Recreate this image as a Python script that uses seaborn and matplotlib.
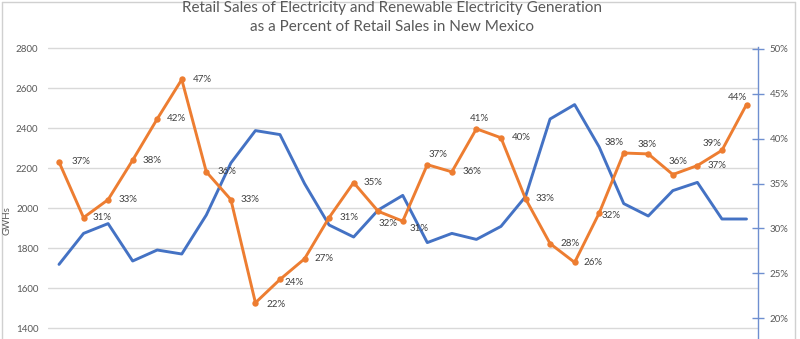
import matplotlib
matplotlib.use("Agg")
import matplotlib.pyplot as plt
from matplotlib.lines import Line2D
from matplotlib.ticker import PercentFormatter
import pandas as pd
import seaborn as sns

# Monthly periods, retail sales (GWh) and renewable share of retail sales
periods = list(range(29))
retail_sales_gwh = [1718, 1873, 1922, 1735, 1790, 1770, 1965, 2225, 2387, 2367,
                    2122, 1915, 1855, 1990, 2063, 1827, 1873, 1843, 1908, 2057,
                    2445, 2517, 2305, 2022, 1960, 2087, 2128, 1945, 1945]
renewable_share = [0.374, 0.312, 0.332, 0.376, 0.422, 0.466, 0.363, 0.332, 0.217, 0.243,
                   0.266, 0.312, 0.351, 0.319, 0.308, 0.371, 0.363, 0.411, 0.401, 0.333,
                   0.283, 0.262, 0.317, 0.384, 0.383, 0.360, 0.370, 0.387, 0.438]
gwh_ticks = [1400, 1600, 1800, 2000, 2200, 2400, 2600, 2800]
share_ticks = [0.20, 0.25, 0.30, 0.35, 0.40, 0.45, 0.50]
title_lines = ["Retail Sales of Electricity and Renewable Electricity Generation",
               "as a Percent of Retail Sales in New Mexico"]
y_label = "GWHs"

# Data-label placement (pixel offsets: right, down) for each percentage label
label_offsets = [(13, 0), (9, 0), (10, 0), (10, 0), (10, 0), (11, 0), (11, 0), (10, 0),
                 (11, 2), (5, 3), (10, 0), (10, 0), (10, 0), (0, 12), (7, 7), (1, -10),
                 (11, 0), (-7, -10), (11, 0), (10, 0), (10, 0), (9, 0), (2, 2), (-19, -11),
                 (-11, -9), (-4, -13), (10, 0), (-19, -7), (-19, -7)]

df = pd.DataFrame({"period": periods, "gwh": retail_sales_gwh, "share": renewable_share})

sns.set_theme(style="white")
plt.rcParams["font.family"] = ["Lato", "DejaVu Sans"]

W, H = 800, 339
BLUE = "#4472C4"
ORANGE = "#ED7D31"
GREY_TXT = "#595959"
GRID = "#d9d9d9"
AXIS_BLUE = "#6f8fd0"

fig = plt.figure(figsize=(W / 100, H / 100), dpi=100)
plot_left, plot_right, plot_top = 48, 757.7, 47
ax = fig.add_axes([plot_left / W, 0, (plot_right - plot_left) / W, (H - plot_top) / H])

sns.lineplot(data=df, x="period", y="gwh", ax=ax, color=BLUE, linewidth=2.1)
ax.lines[-1].set_solid_joinstyle("round")

ax2 = ax.twinx()
sns.lineplot(data=df, x="period", y="share", ax=ax2, color=ORANGE, linewidth=2.1,
             marker="o", markersize=4.6, markeredgewidth=0)
ax2.lines[-1].set_solid_joinstyle("round")

# Axis ranges
px_per_unit = (746.5 - 59) / 28
ax.set_xlim(-(59 - plot_left) / px_per_unit, 28 + (plot_right - 746.5) / px_per_unit)
gwh_per_px = 200 / 40
ax.set_ylim(1400 - (H - 328) * gwh_per_px, 2800 + (48 - plot_top) * gwh_per_px)
share_per_px = 0.30 / (318 - 49)
ax2.set_ylim(0.20 - (H - 318) * share_per_px, 0.50 + (49 - plot_top) * share_per_px)

# Left axis: grid only, no spine
ax.set_yticks(gwh_ticks)
ax.set_xticks([])
ax.grid(axis="y", color=GRID, linewidth=1)
ax.tick_params(axis="y", length=0, pad=7, labelcolor=GREY_TXT, labelsize=7)
ax.set_xlabel("")
ax.set_ylabel("")
for s in ax.spines.values():
    s.set_visible(False)

# Right axis: blue spine with crossing ticks
ax2.set_yticks(share_ticks)
ax2.yaxis.set_major_formatter(PercentFormatter(1.0, decimals=0))
ax2.tick_params(axis="y", direction="inout", length=9, width=1, color=AXIS_BLUE,
                labelcolor=GREY_TXT, labelsize=7, pad=4)
ax2.grid(False)
ax2.set_ylabel("")
ax2.set_xlabel("")
for name, s in ax2.spines.items():
    s.set_visible(name == "right")
ax2.spines["right"].set_color(AXIS_BLUE)
ax2.spines["right"].set_linewidth(1)

# Percentage data labels
for i, v, (dx, dy) in zip(periods, renewable_share, label_offsets):
    ax2.annotate(f"{v:.0%}", (i, v), xytext=(dx, -dy), textcoords="offset pixels",
                 ha="left", va="center", fontsize=7, color="#404040")

# Title and axis label
fig.text(392 / W, 1 - 8 / H, title_lines[0], ha="center", va="center",
         fontsize=11, color=GREY_TXT)
fig.text(392 / W, 1 - 27 / H, title_lines[1], ha="center", va="center",
         fontsize=11, color=GREY_TXT)
fig.text(7 / W, 1 - 221 / H, y_label, rotation=90, ha="center", va="center",
         fontsize=7, color=GREY_TXT)

# Chart border
border = "#d0d0d0"
fig.add_artist(Line2D([1.5 / W, 1.5 / W], [0, 1 - 1.5 / H], transform=fig.transFigure,
                      color=border, linewidth=1))
fig.add_artist(Line2D([1.5 / W, 795 / W], [1 - 1.5 / H, 1 - 1.5 / H],
                      transform=fig.transFigure, color=border, linewidth=1))
fig.add_artist(Line2D([795 / W, 795 / W], [0, 1 - 1.5 / H], transform=fig.transFigure,
                      color=border, linewidth=1))

fig.savefig("out.png", dpi=100)
